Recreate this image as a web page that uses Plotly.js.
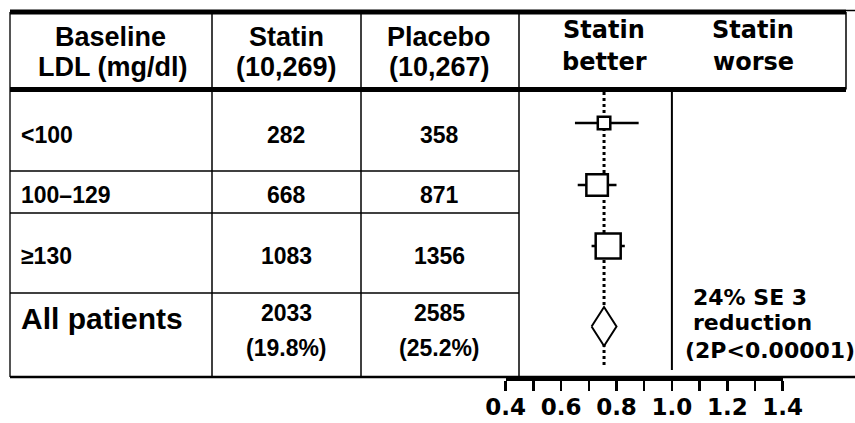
<!DOCTYPE html>
<html>
<head>
<meta charset="utf-8">
<script src="https://cdn.plot.ly/plotly-3.0.1.min.js"></script>
<style>
  html, body { margin: 0; padding: 0; background: #fff; }
  #chart { width: 855px; height: 423px; }
</style>
</head>
<body>
<div id="chart"></div>
<script>
// ---------------- DATA ----------------
const headerLabel = ['Baseline', 'LDL (mg/dl)'];
const armNames = ['Statin', 'Placebo'];
const armTotals = ['10,269', '10,267'];
const subgroups = ['<100', '100–129', '≥130'];
const statinEvents = [282, 668, 1083];
const placeboEvents = [358, 871, 1356];
const overallLabel = 'All patients';
const overallStatinEvents = 2033;
const overallStatinPct = 19.8;
const overallPlaceboEvents = 2585;
const overallPlaceboPct = 25.2;
const ratio = [0.755, 0.73, 0.77];
const ratioLow = [0.65, 0.66, 0.71];
const ratioHigh = [0.88, 0.80, 0.83];
const overallRatio = 0.755;
const overallLow = 0.71;
const overallHigh = 0.80;
const forestHeaders = [['Statin', 'better'], ['Statin', 'worse']];
const summaryText = ['24% SE 3', 'reduction', '(2P<0.00001)'];
const tickVals = [0.4, 0.5, 0.6, 0.7, 0.8, 0.9, 1.0, 1.1, 1.2, 1.3, 1.4];
const tickText = ['0.4', '', '0.6', '', '0.8', '', '1.0', '', '1.2', '', '1.4'];

// ---------------- LAYOUT CONSTANTS (pixels) ----------------
const W = 855, H = 423, PB = 378;          // plot area bottom
const AX0 = 505.7, AX1 = 782.7;            // pixel span of 0.4 .. 1.4
const colX = [10, 212, 361, 519, 846];
const rowLineY = [171, 213, 293];
const topY = 12, headY = 89.5, botY = 377;
const rowTextY = [134.5, 194.5, 255.5];
const rowMarkY = [123, 185, 246];
const overallY = 326.5, diamondHalf = 19.5;
const markerSizes = [12.5, 21.5, 25];
const ARIAL = 'Liberation Sans, Arial, sans-serif';
const VERD = 'DejaVu Sans, Verdana, sans-serif';

const px = x => x / W;
const py = y => (PB - y) / PB;

const shapes = [];
function hline(x0, x1, y, w, c) {
  shapes.push({type: 'line', xref: 'paper', yref: 'paper', x0: px(x0), x1: px(x1), y0: py(y), y1: py(y),
    line: {color: c || '#000', width: w}});
}
function vline(x, y0, y1, w, c) {
  shapes.push({type: 'line', xref: 'paper', yref: 'paper', x0: px(x), x1: px(x), y0: py(y0), y1: py(y1),
    line: {color: c || '#000', width: w}});
}
// table frame
vline(colX[0], topY, botY, 2, '#555');
vline(colX[1], topY, botY, 1.5);
vline(colX[2], topY, botY, 1.5);
vline(colX[3], topY, botY, 1.5);
vline(colX[4], topY, headY, 1.5);
rowLineY.forEach(y => hline(colX[0], colX[3], y, 1.5));
hline(colX[0], W, botY, 2.5);
hline(colX[0], colX[4], topY, 5);
hline(colX[4], W, topY - 1.5, 1.5);
hline(colX[0], colX[4], headY, 5);
// forest reference lines
shapes.push({type: 'line', xref: 'x', yref: 'y', layer: 'below', x0: overallRatio, x1: overallRatio, y0: 92, y1: 368,
  line: {color: '#000', width: 3, dash: 'dot'}});
shapes.push({type: 'line', xref: 'x', yref: 'y', layer: 'below', x0: 1.0, x1: 1.0, y0: headY, y1: 370,
  line: {color: '#000', width: 2}});

const annotations = [];
function ann(text, x, y, size, family, anchor) {
  annotations.push({text: text, xref: 'paper', yref: 'y', x: px(x), y: y, xanchor: anchor || 'center',
    yanchor: 'middle', showarrow: false, font: {family: family, size: size, color: '#000', weight: 'bold'}});
}
// header
ann(headerLabel[0], 111, 36.5, 27, ARIAL);
ann(headerLabel[1], 112, 67, 27, ARIAL);
const colCenters = [286, 439];
armNames.forEach((n, i) => {
  ann(n, colCenters[i], 36.5, 27, ARIAL);
  ann('(' + armTotals[i] + ')', colCenters[i], 67, 27, ARIAL);
});
// rows
subgroups.forEach((g, i) => {
  ann(g, 19, rowTextY[i], 23, ARIAL, 'left');
  ann(String(statinEvents[i]), colCenters[0], rowTextY[i], 23, ARIAL);
  ann(String(placeboEvents[i]), colCenters[1], rowTextY[i], 23, ARIAL);
});
ann(overallLabel, 19, 318, 30, ARIAL, 'left');
ann(String(overallStatinEvents), colCenters[0], 313, 23, ARIAL);
ann('(' + overallStatinPct.toFixed(1) + '%)', colCenters[0], 348, 23, ARIAL);
ann(String(overallPlaceboEvents), colCenters[1], 313, 23, ARIAL);
ann('(' + overallPlaceboPct.toFixed(1) + '%)', colCenters[1], 348, 23, ARIAL);
// forest header
const fhX = [604, 753];
forestHeaders.forEach((h, i) => {
  ann(h[0], fhX[i], 30, 24, VERD);
  ann(h[1], fhX[i], 62, 24, VERD);
});
// summary text
ann(summaryText[0], 691, 297, 22, VERD, 'left');
ann(summaryText[1], 691, 322, 22, VERD, 'left');
ann(summaryText[2], 683, 350, 22, VERD, 'left');

// ---------------- TRACES ----------------
const ciX = [], ciY = [];
ratio.forEach((r, i) => { ciX.push(ratioLow[i], ratioHigh[i], null); ciY.push(rowMarkY[i], rowMarkY[i], null); });
const traces = [
  {type: 'scatter', mode: 'lines', x: ciX, y: ciY, line: {color: '#000', width: 2.5}, hoverinfo: 'skip'},
  {type: 'scatter', mode: 'markers', x: ratio, y: rowMarkY,
    marker: {symbol: 'square', size: markerSizes, opacity: 1, color: '#fff', line: {color: '#000', width: 2.5}}},
  {type: 'scatter', mode: 'lines', fill: 'toself', fillcolor: '#fff',
    x: [overallLow, overallRatio, overallHigh, overallRatio, overallLow],
    y: [overallY, overallY - diamondHalf, overallY, overallY + diamondHalf, overallY],
    line: {color: '#000', width: 2}}
];

const layout = {
  width: W, height: H,
  margin: {l: 0, r: 0, t: 0, b: H - PB, pad: 0},
  paper_bgcolor: '#fff', plot_bgcolor: 'rgba(0,0,0,0)',
  showlegend: false, hovermode: false,
  xaxis: {domain: [px(AX0), px(AX1)], range: [0.4, 1.4], showgrid: false, zeroline: false,
    showline: true, linewidth: 3, linecolor: '#000',
    ticks: 'outside', ticklen: 10, tickwidth: 2.5, tickcolor: '#000',
    tickmode: 'array', tickvals: tickVals, ticktext: tickText, ticklabelstandoff: -4,
    tickfont: {family: VERD, size: 23, color: '#000', weight: 'bold'}},
  yaxis: {domain: [0, 1], range: [PB, 0], visible: false, showgrid: false, zeroline: false},
  shapes: shapes, annotations: annotations
};
Plotly.newPlot('chart', traces, layout, {staticPlot: true, displayModeBar: false});
</script>
</body>
</html>
